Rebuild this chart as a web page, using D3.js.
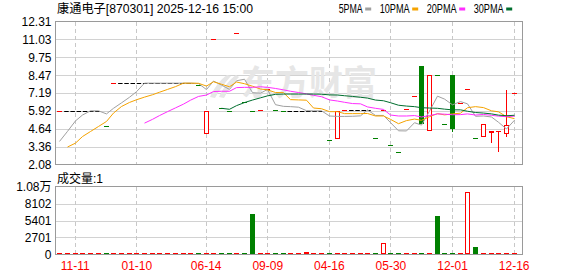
<!DOCTYPE html>
<html>
<head>
<meta charset="utf-8">
<script src="https://cdn.jsdelivr.net/npm/d3@7"></script>
<style>
body { margin: 0; background: #fff; }
svg { display: block; }
text { font-family: "Liberation Sans", "Noto Sans CJK SC", sans-serif; font-size: 12px; }
</style>
</head>
<body>
<div id="chart"></div>
<script>
const width = 578;
const height = 276;

// K-line data, one entry per trading day (oldest first)
const opens = [
  5.92, 5.92, 5.92, 5.92, 5.92, 5.92, 4.83, 7.90, 7.90, 7.90,
  7.90, 7.90, 7.90, 7.90, 7.90, 7.90, 7.90, 7.90, 7.76, 4.26,
  11.05, 6.09, 5.92, 11.48, 6.52, 5.92, 5.95, 7.47, 5.95, 5.92,
  5.92, 5.92, 5.92, 5.92, 5.92, 3.85, 3.90, 5.99, 5.99, 5.99,
  5.99, 3.97, 6.00, 3.44, 2.97, 6.04, 7.00, 9.14, 4.51, 8.48,
  4.97, 8.50, 6.47, 7.47, 3.97, 4.04, 4.33, 4.49, 4.28, 7.20
];
const highs = [
  5.92, 5.92, 5.92, 5.92, 5.92, 5.92, 4.83, 7.90, 7.90, 7.90,
  7.90, 7.90, 7.90, 7.90, 7.90, 7.90, 7.90, 7.90, 7.76, 5.92,
  11.05, 6.09, 5.92, 11.48, 6.52, 5.92, 5.95, 7.47, 5.95, 5.92,
  5.92, 5.92, 5.92, 5.92, 5.92, 3.85, 5.92, 5.99, 5.99, 5.99,
  5.99, 3.97, 6.00, 3.44, 2.97, 6.04, 7.00, 9.14, 8.50, 8.48,
  4.97, 8.50, 6.47, 7.47, 3.97, 4.99, 4.47, 4.49, 7.42, 7.20
];
const lows = [
  5.92, 5.92, 5.92, 5.92, 5.92, 5.92, 4.83, 7.90, 7.90, 7.90,
  7.90, 7.90, 7.90, 7.90, 7.90, 7.90, 7.90, 7.90, 7.76, 4.26,
  11.05, 6.09, 5.92, 11.48, 6.52, 5.92, 5.95, 7.47, 5.95, 5.92,
  5.92, 5.92, 5.92, 5.92, 5.92, 3.85, 3.90, 5.99, 5.99, 5.99,
  5.99, 3.97, 6.00, 3.44, 2.97, 6.04, 7.00, 4.97, 4.51, 8.48,
  4.97, 4.37, 6.47, 7.47, 3.97, 4.04, 3.61, 2.94, 4.04, 7.20
];
const closes = [
  5.92, 5.92, 5.92, 5.92, 5.92, 5.92, 4.83, 7.90, 7.90, 7.90,
  7.90, 7.90, 7.90, 7.90, 7.90, 7.90, 7.90, 7.90, 7.76, 5.92,
  11.05, 6.09, 5.92, 11.48, 6.52, 5.92, 5.95, 7.47, 5.95, 5.92,
  5.92, 5.92, 5.92, 5.92, 5.92, 3.85, 5.92, 5.99, 5.99, 5.99,
  5.99, 3.97, 6.00, 3.44, 2.97, 6.04, 7.00, 4.97, 8.50, 8.48,
  4.97, 4.65, 6.47, 7.47, 3.97, 4.99, 4.47, 4.49, 4.90, 7.20
];
const prevClose = 5.60; // close before the first visible day

const volumes = [
  100, 100, 100, 100, 100, 100, 100, 100, 100, 100,
  100, 100, 100, 100, 100, 100, 100, 100, 100, 100,
  100, 100, 100, 100, 100, 6400, 100, 100, 100, 100,
  100, 100, 420, 100, 100, 100, 300, 100, 100, 100,
  100, 100, 1900, 100, 100, 100, 100, 100, 100, 6100,
  100, 100, 100, 10000, 1250, 100, 100, 300, 100, 100
];

// moving averages as drawn on the chart
const ma5 = [
  3.73, 4.45, 5.20, 5.62, 5.92, 5.92, 5.70, 6.10, 6.49, 6.89,
  7.29, 7.90, 7.90, 7.90, 7.90, 7.90, 7.90, 7.90, 7.87, 7.44,
  8.05, 7.76, 7.45, 8.07, 8.18, 7.22, 7.18, 7.45, 6.36, 6.24,
  6.22, 6.18, 5.93, 5.92, 5.92, 5.55, 5.52, 5.52, 5.53, 5.56,
  5.98, 5.59, 5.59, 5.08, 4.49, 4.48, 5.07, 4.90, 5.90, 6.97,
  6.76, 6.35, 6.58, 6.42, 5.53, 5.55, 5.48, 5.10, 4.62, 5.25
];
const ma10 = [
  null, 3.33, 3.61, 4.08, 4.44, 4.80, 5.16, 5.76, 6.23, 6.52,
  6.71, 6.90, 7.07, 7.25, 7.45, 7.65, 7.90, 7.90, 7.89, 7.69,
  8.00, 7.82, 7.64, 7.98, 7.86, 7.68, 7.48, 7.42, 7.23, 7.22,
  6.72, 6.70, 6.68, 6.12, 6.07, 5.86, 5.86, 5.72, 5.72, 5.72,
  5.73, 5.55, 5.55, 5.31, 5.00, 5.22, 5.33, 5.24, 5.50, 5.72,
  5.63, 5.70, 5.75, 6.14, 6.22, 6.15, 5.92, 5.85, 5.50, 5.36
];
const ma20 = [
  null, null, null, null, null, null, null, null, null, null,
  null, 5.04, 5.31, 5.58, 5.86, 6.13, 6.40, 6.68, 6.95, 7.05,
  7.30, 7.32, 7.32, 7.58, 7.60, 7.60, 7.64, 7.60, 7.52, 7.42,
  7.32, 7.23, 7.13, 7.03, 6.93, 6.70, 6.62, 6.53, 6.44, 6.42,
  6.20, 6.10, 6.02, 5.62, 5.55, 5.55, 5.58, 5.48, 5.58, 5.70,
  5.68, 5.64, 5.65, 5.70, 5.62, 5.66, 5.60, 5.54, 5.50, 5.54
];
const ma30 = [
  null, null, null, null, null, null, null, null, null, null,
  null, null, null, null, null, null, null, null, null, null,
  null, 6.10, 6.03, 6.29, 6.51, 6.69, 6.85, 6.99, 7.10, 7.12,
  7.12, 7.12, 7.12, 7.12, 7.11, 7.06, 7.05, 7.00, 6.95, 6.89,
  6.83, 6.69, 6.64, 6.50, 6.32, 6.26, 6.22, 6.14, 6.12, 6.10,
  6.04, 5.99, 5.99, 5.89, 5.80, 5.76, 5.70, 5.61, 5.57, 5.60
];

// axis ticks and labels
const priceTicks = [2.08, 3.36, 4.64, 5.92, 7.19, 8.47, 9.75, 11.03, 12.31];
const volTicks = [0, 2701, 5401, 8102, 10803];
const volTickLabels = ["0", "2701", "5401", "8102", "1.08万"];
const dateIdx = [2, 10, 19, 27, 35, 43, 51, 59];
const dateLabels = ["11-11", "01-10", "06-14", "09-09", "04-16", "05-30", "12-01", "12-16"];

const maNames = ["5PMA", "10PMA", "20PMA", "30PMA"];
const maColors = ["#a0a0a0", "#f5a300", "#ff2dff", "#006e2e"];
const title = "康通电子[870301] 2025-12-16 15:00";

const RED = "#ff0000";
const GREEN = "#008000";

// panel geometry
const plotL = 55.5, plotR = 522.5;
const pTop = 21.5, pBot = 164.5;
const vTop = 186.5, vBot = 254.5;

const n = closes.length;
const x = d3.scaleBand().domain(d3.range(n)).range([56, 518]);
const cx = i => Math.floor(x(i) + x.bandwidth() / 2) + 0.5;
const y = d3.scaleLinear().domain([2.08, 12.31]).range([pBot, pTop]);
const vy = d3.scaleLinear().domain([0, 10803]).range([vBot, vTop]);

// up / down / flat (flat = same as previous close)
function dir(i) {
    const o = opens[i], c = closes[i];
    if (c > o) return "up";
    if (c < o) return "down";
    const p = i > 0 ? closes[i - 1] : prevClose;
    return c > p ? "up" : (c < p ? "down" : "flat");
}
const dirs = d3.range(n).map(dir);

const svg = d3.select("#chart").append("svg")
    .attr("width", width)
    .attr("height", height);

// grid
const grid = svg.append("g").attr("shape-rendering", "crispEdges");
grid.selectAll(".hp").data(priceTicks.slice(1, -1)).enter().append("line")
    .attr("x1", plotL).attr("x2", plotR)
    .attr("y1", d => Math.round(y(d)) + 0.5).attr("y2", d => Math.round(y(d)) + 0.5)
    .attr("stroke", "#d2d2d2");
grid.selectAll(".hv").data(volTicks.slice(1, -1)).enter().append("line")
    .attr("x1", plotL).attr("x2", plotR)
    .attr("y1", d => Math.round(vy(d)) + 0.5).attr("y2", d => Math.round(vy(d)) + 0.5)
    .attr("stroke", "#d2d2d2");
[[pTop, pBot], [vTop, vBot]].forEach(([t, b]) => {
    grid.selectAll(null).data(dateIdx).enter().append("line")
        .attr("x1", d => cx(d)).attr("x2", d => cx(d))
        .attr("y1", t).attr("y2", b)
        .attr("stroke", "#c8c8c8")
        .attr("stroke-dasharray", "4,3");
});

// watermark
const wm = svg.append("g").attr("fill", "#e6e6e6");
wm.append("path").attr("d", "M210,97 C214,88 220,80 227,75 L231,76 C225,83 219,90 215,98 Z");
wm.append("path").attr("d", "M219,97 C223,88 229,80 236,75 L239,77 C233,83 228,90 224,98 Z");
wm.append("text")
    .attr("x", 241).attr("y", 95)
    .style("font-size", "34px").style("font-weight", "bold")
    .style("font-family", "'Noto Sans CJK SC', sans-serif")
    .text("东方财富");

// candles
const candles = svg.append("g");
d3.range(n).forEach(i => {
    const d = dirs[i];
    if (d === "flat") return;
    const col = d === "up" ? RED : GREEN;
    const c = cx(i);
    const top = Math.round(y(Math.max(opens[i], closes[i])));
    const bot = Math.round(y(Math.min(opens[i], closes[i])));
    const hi = Math.round(y(highs[i]));
    const lo = Math.round(y(lows[i]));
    if (hi < top) {
        candles.append("line").attr("x1", c).attr("x2", c).attr("y1", hi).attr("y2", top)
            .attr("stroke", col);
    }
    if (lo > bot) {
        candles.append("line").attr("x1", c).attr("x2", c).attr("y1", bot).attr("y2", lo)
            .attr("stroke", col);
    }
    if (bot - top < 1) {
        candles.append("line")
            .attr("x1", c - 2.5).attr("x2", c + 2.5)
            .attr("y1", top + 0.5).attr("y2", top + 0.5)
            .attr("stroke", col);
    } else if (d === "up") {
        candles.append("rect")
            .attr("x", c - 2).attr("y", top + 0.5)
            .attr("width", 4).attr("height", bot - top - 1)
            .attr("fill", "#fff").attr("stroke", col);
    } else {
        candles.append("rect")
            .attr("x", c - 2.5).attr("y", top)
            .attr("width", 5).attr("height", bot - top)
            .attr("fill", col);
    }
});

// flat days: dashed black runs
let runStart = null;
d3.range(n + 1).forEach(i => {
    const flat = i < n && dirs[i] === "flat";
    if (flat && runStart === null) runStart = i;
    if (!flat && runStart !== null) {
        const py = Math.round(y(closes[runStart])) + 0.5;
        candles.append("line")
            .attr("x1", x(runStart) + 0.5)
            .attr("x2", x(i - 1) + x.bandwidth() - 1)
            .attr("y1", py).attr("y2", py)
            .attr("stroke", "#000")
            .attr("stroke-dasharray", "4.5,1.7");
        runStart = null;
    }
});

// moving averages
[ma5, ma10, ma20, ma30].forEach((ma, k) => {
    const line = d3.line()
        .defined(d => d != null)
        .x((d, i) => cx(i))
        .y(d => y(d));
    svg.append("path")
        .datum(ma)
        .attr("d", line)
        .attr("fill", "none")
        .attr("stroke", maColors[k])
        .attr("stroke-width", 1);
});

// volume bars
const vol = svg.append("g");
d3.range(n).forEach(i => {
    const col = dirs[i] === "down" ? GREEN : RED;
    const c = cx(i);
    const top = Math.round(vy(volumes[i]));
    if (vBot - top < 2) {
        vol.append("rect")
            .attr("x", c - 2.5).attr("y", 253)
            .attr("width", 5).attr("height", 1)
            .attr("fill", col);
    } else if (dirs[i] === "down") {
        vol.append("rect")
            .attr("x", c - 2.5).attr("y", top)
            .attr("width", 5).attr("height", 254 - top)
            .attr("fill", col);
    } else {
        vol.append("rect")
            .attr("x", c - 2).attr("y", top + 0.5)
            .attr("width", 4).attr("height", Math.max(0.5, 253.5 - top - 0.5))
            .attr("fill", "#fff").attr("stroke", col);
    }
});

// frames
[[pTop, pBot], [vTop, vBot]].forEach(([t, b]) => {
    svg.append("rect")
        .attr("x", plotL).attr("y", t)
        .attr("width", plotR - plotL).attr("height", b - t)
        .attr("fill", "none")
        .attr("stroke", "#9a9a9a")
        .attr("shape-rendering", "crispEdges");
});

// axes
const yAxis = svg.append("g")
    .attr("transform", `translate(${plotL},0)`)
    .call(d3.axisLeft(y).tickValues(priceTicks).tickSize(0).tickPadding(4).tickFormat(d3.format(".2f")));
const vAxis = svg.append("g")
    .attr("transform", `translate(${plotL},0)`)
    .call(d3.axisLeft(vy).tickValues(volTicks).tickSize(0).tickPadding(4)
        .tickFormat((d, i) => volTickLabels[i]));
const xAxis = svg.append("g")
    .attr("transform", `translate(0,${vBot})`)
    .call(d3.axisBottom(x).tickValues(dateIdx).tickSize(0).tickPadding(7)
        .tickFormat(d => dateLabels[dateIdx.indexOf(d)]));
[yAxis, vAxis, xAxis].forEach(a => {
    a.select(".domain").remove();
    a.selectAll("text").style("font-size", "12px")
        .style("font-family", "'Liberation Sans', 'Noto Sans CJK SC', sans-serif");
});
yAxis.selectAll("text").attr("fill", "#000");
vAxis.selectAll("text").attr("fill", "#000");
xAxis.selectAll("text").attr("fill", RED);

// title and volume caption
svg.append("text")
    .attr("x", 57).attr("y", 13)
    .attr("textLength", 196).attr("lengthAdjust", "spacingAndGlyphs")
    .text(title);
svg.append("text")
    .attr("x", 57).attr("y", 183)
    .text("成交量:1");

// legend
let lx = 338.7;
maNames.forEach((name, k) => {
    const w = name.length * 6;
    svg.append("text")
        .attr("x", lx).attr("y", 13)
        .attr("textLength", w).attr("lengthAdjust", "spacingAndGlyphs")
        .text(name);
    svg.append("rect")
        .attr("x", lx + w + 2.5).attr("y", 7.5)
        .attr("width", 6).attr("height", 3)
        .attr("fill", maColors[k]);
    lx += w + 2.5 + 6 + 8.5;
});
</script>
</body>
</html>
